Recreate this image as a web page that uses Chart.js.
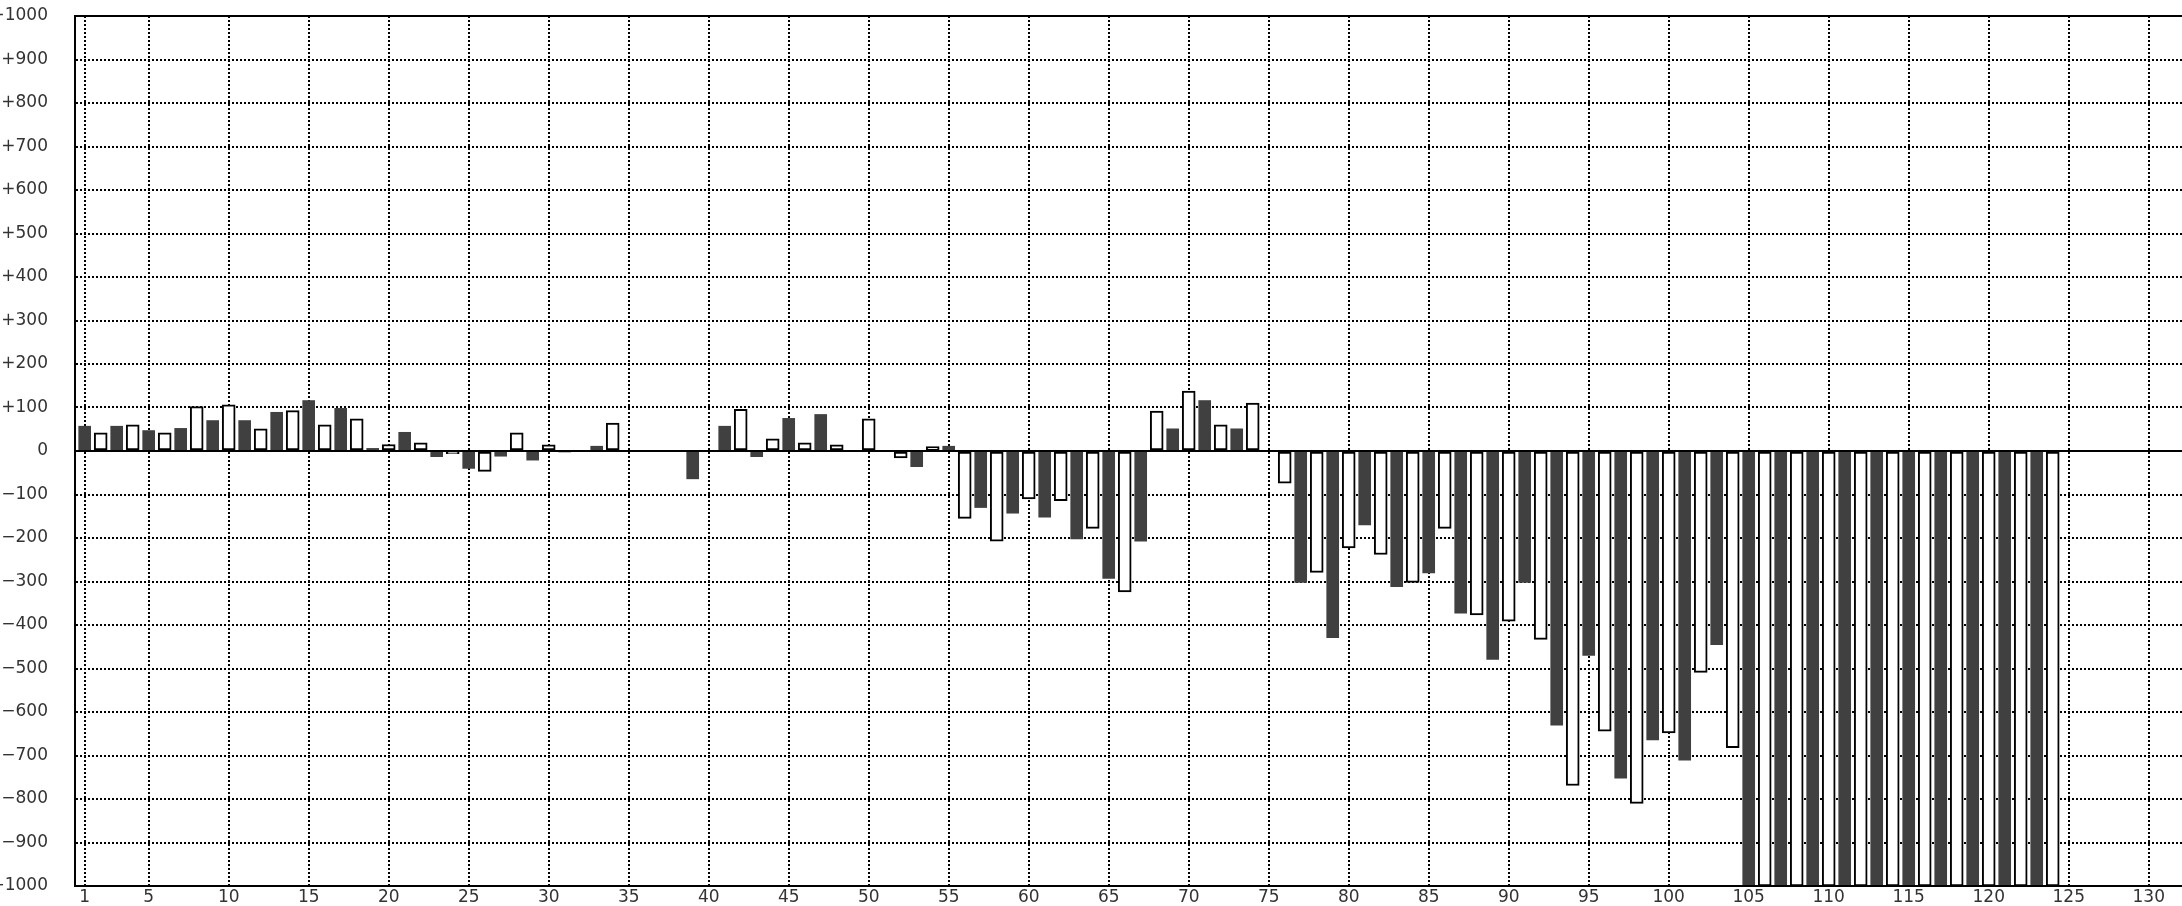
<!DOCTYPE html>
<html>
<head>
<meta charset="utf-8">
<script src="https://cdn.jsdelivr.net/npm/chart.js@4.4.1/dist/chart.umd.min.js"></script>
<style>
  html, body { margin: 0; padding: 0; background: #fff; }
  canvas { display: block; }
</style>
</head>
<body>
<canvas id="grafico" width="2182" height="906"></canvas>
<script>
// valor de cada barra, posição = índice + 1 (null = sem barra)
const valores = [
    57, 42, 57, 60, 47, 42, 52, 102, 70, 106,
    70, 51, 89, 93, 116, 60, 98, 74, 6, 15,
    43, 19, -13, -6, -40, -47, -12, 42, -21, 14,
    -2, null, 11, 64, null, null, null, null, -64, null,
    57, 96, -13, 28, 75, 19, 84, 14, null, 74,
    null, -16, -36, 10, 11, -155, -130, -207, -143, -110,
    -152, -114, -202, -178, -293, -324, -207, 92, 51, 138,
    116, 60, 51, 110, null, -74, -302, -279, -429, -223,
    -170, -238, -312, -302, -280, -178, -373, -377, -479, -391,
    -302, -433, -630, -769, -470, -644, -752, -810, -664, -648,
    -711, -509, -445, -682, -1000, -1000, -1000, -1000, -1000, -1000,
    -1000, -1000, -1000, -1000, -1000, -1000, -1000, -1000, -1000, -1000,
    -1000, -1000, -1000, -1000
];

const posicoes = valores.map((v, i) => i + 1);

const ticksX = [1, 5, 10, 15, 20, 25, 30, 35, 40, 45, 50, 55, 60, 65, 70,
    75, 80, 85, 90, 95, 100, 105, 110, 115, 120, 125, 130];

const barrasEscuras = [];
const barrasClaras = [];
posicoes.forEach((x, i) => {
    if (valores[i] === null) return;
    if (x % 2 === 1) barrasEscuras.push({ x: x, y: valores[i] });
    else barrasClaras.push({ x: x, y: valores[i] });
});

function formataY(valor) {
    if (valor > 0) return '+' + valor;
    if (valor < 0) return '\u2212' + Math.abs(valor);
    return '0';
}

// linha do zero e borda de cima por cima das barras
const linhasMoldura = {
    id: 'linhasMoldura',
    afterDatasetsDraw(chart) {
        const { ctx, chartArea, scales } = chart;
        const zero = scales.y.getPixelForValue(0);
        ctx.save();
        ctx.strokeStyle = '#000';
        ctx.lineWidth = 2;
        ctx.beginPath();
        ctx.moveTo(chartArea.left, zero);
        ctx.lineTo(chartArea.right, zero);
        ctx.moveTo(chartArea.left, chartArea.top);
        ctx.lineTo(chartArea.right, chartArea.top);
        ctx.stroke();
        ctx.restore();
    }
};

Chart.defaults.font.family = '"DejaVu Sans", sans-serif';
Chart.defaults.font.size = 17;
Chart.defaults.color = '#333';

const $grafico = document.getElementById('grafico');

const grafico = new Chart($grafico, {
    type: 'bar',
    data: {
        datasets: [{
            label: 'ímpar',
            data: barrasEscuras,
            backgroundColor: '#404040',
            borderWidth: 0,
            barThickness: 12,
            grouped: false
        }, {
            label: 'par',
            data: barrasClaras,
            backgroundColor: '#fff',
            borderColor: '#000',
            borderWidth: 2,
            borderSkipped: false,
            barThickness: 13,
            grouped: false
        }]
    },
    options: {
        responsive: false,
        animation: false,
        devicePixelRatio: 1,
        layout: { padding: { top: 16, left: 0, right: 0, bottom: 0 } },
        plugins: {
            legend: { display: false },
            tooltip: { enabled: false }
        },
        scales: {
            x: {
                type: 'linear',
                offset: false,
                min: 0.394,
                max: 132.08,
                afterBuildTicks: (escala) => {
                    escala.ticks = ticksX.map(v => ({ value: v }));
                },
                afterFit: (escala) => { escala.height = 20; },
                ticks: {
                    padding: 1,
                    maxRotation: 0,
                    autoSkip: false,
                    callback: (v) => String(v)
                },
                grid: {
                    offset: false,
                    color: '#000',
                    lineWidth: 2,
                    drawTicks: false
                },
                border: { color: '#000', width: 2, dash: [2, 2], z: 1 }
            },
            y: {
                min: -1000,
                max: 1000,
                afterFit: (escala) => { escala.width = 75; },
                ticks: {
                    stepSize: 100,
                    padding: 0,
                    callback: formataY
                },
                grid: {
                    color: '#000',
                    lineWidth: 2,
                    drawTicks: true,
                    tickLength: 27,
                    tickColor: 'rgba(0,0,0,0)'
                },
                border: { color: '#000', width: 2, dash: [2, 2], z: 1 }
            }
        }
    },
    plugins: [linhasMoldura]
});
</script>
</body>
</html>
